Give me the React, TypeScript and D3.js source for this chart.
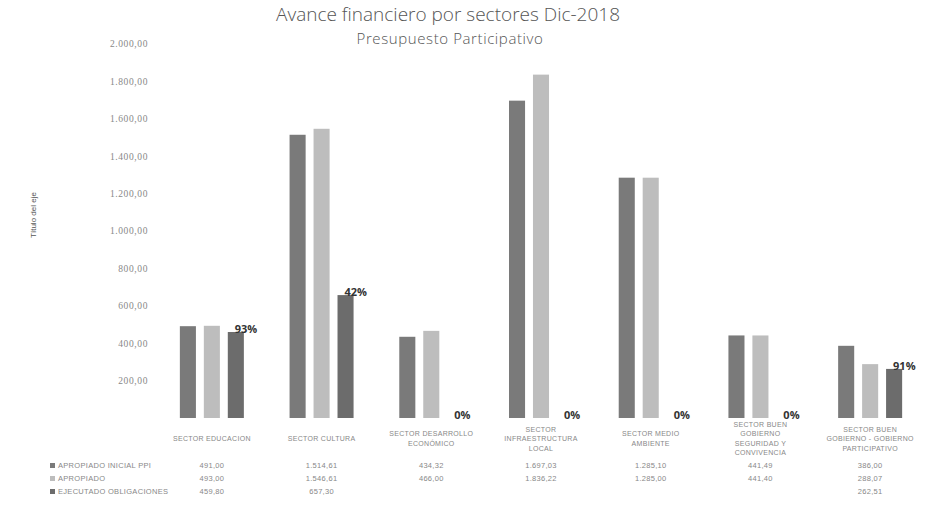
import React from "react";
import * as d3 from "d3";

// Datos (valores en millones)
const categories = [
  "SECTOR EDUCACION",
  "SECTOR CULTURA",
  "SECTOR DESARROLLO ECONÓMICO",
  "SECTOR INFRAESTRUCTURA LOCAL",
  "SECTOR MEDIO AMBIENTE",
  "SECTOR BUEN GOBIERNO SEGURIDAD Y CONVIVENCIA",
  "SECTOR BUEN GOBIERNO - GOBIERNO PARTICIPATIVO",
];
const categoryLines = [
  ["SECTOR EDUCACION"],
  ["SECTOR CULTURA"],
  ["SECTOR DESARROLLO", "ECONÓMICO"],
  ["SECTOR", "INFRAESTRUCTURA", "LOCAL"],
  ["SECTOR MEDIO", "AMBIENTE"],
  ["SECTOR BUEN", "GOBIERNO", "SEGURIDAD Y", "CONVIVENCIA"],
  ["SECTOR BUEN", "GOBIERNO - GOBIERNO", "PARTICIPATIVO"],
];
const seriesNames = ["APROPIADO INICIAL PPI", "APROPIADO", "EJECUTADO OBLIGACIONES"];
const apropiadoInicial = [491.0, 1514.61, 434.32, 1697.03, 1285.1, 441.49, 386.0];
const apropiado = [493.0, 1546.61, 466.0, 1836.22, 1285.0, 441.4, 288.07];
const ejecutado = [459.8, 657.3, 0, 0, 0, 0, 262.51];
const yTicks = [200, 400, 600, 800, 1000, 1200, 1400, 1600, 1800, 2000];

const seriesColors = ["#7a7a7a", "#bdbdbd", "#6c6c6c"];

const width = 931;
const height = 510;

const esLocale = d3.formatLocale({
  decimal: ",",
  thousands: ".",
  grouping: [3],
  currency: ["$", ""],
});
const fmt = esLocale.format(",.2f");

export default function App() {
  const series = [apropiadoInicial, apropiado, ejecutado];

  const x = d3
    .scaleBand<string>()
    .domain(categories)
    .range([157, 925])
    .paddingInner(0)
    .paddingOuter(0);
  const inner = d3
    .scaleBand<number>()
    .domain([0, 1, 2])
    .range([0, 64])
    .paddingInner(0.33);
  const y = d3.scaleLinear().domain([0, 2000]).range([418, 44]);

  const groupX = (c: string) => (x(c) as number) + x.bandwidth() / 2 - 32;

  const rowY = [468, 481, 494];

  return (
    <svg
      width={width}
      height={height}
      style={{ position: "absolute", left: 0, top: 0, background: "#fff" }}
    >
      {/* títulos */}
      <text
        x={448}
        y={21}
        textAnchor="middle"
        fontFamily="'Open Sans', sans-serif"
        fontWeight={300}
        fontSize={19}
        fill="#555"
      >
        Avance financiero por sectores Dic-2018
      </text>
      <text
        x={450}
        y={44}
        textAnchor="middle"
        fontFamily="'Open Sans', sans-serif"
        fontWeight={300}
        fontSize={15}
        letterSpacing={0.6}
        fill="#555"
      >
        Presupuesto Participativo
      </text>

      {/* eje Y */}
      <g fontFamily="'Liberation Serif', serif" fontSize={9.5} fill="#888" letterSpacing={0.6}>
        {yTicks.map((t) => (
          <text key={t} x={148} y={y(t)} dy="0.35em" textAnchor="end">
            {fmt(t)}
          </text>
        ))}
      </g>
      <text
        transform={`translate(36,215) rotate(-90)`}
        textAnchor="middle"
        fontFamily="'Liberation Sans', sans-serif"
        fontSize={8}
        fill="#555"
      >
        Título del eje
      </text>

      {/* barras */}
      {categories.map((c, ci) => (
        <g key={c} transform={`translate(${groupX(c)},0)`}>
          {series.map((s, si) =>
            s[ci] > 0 ? (
              <rect
                key={si}
                x={inner(si)}
                y={y(s[ci])}
                width={inner.bandwidth()}
                height={y(0) - y(s[ci])}
                fill={seriesColors[si]}
              />
            ) : null
          )}
          <text
            x={(inner(2) as number) + 7}
            y={y(ejecutado[ci]) + 1}
            fontFamily="'Open Sans', sans-serif"
            fontWeight={700}
            fontSize={11}
            fill="#333"
          >
            {`${Math.round((ejecutado[ci] / apropiado[ci]) * 100)}%`}
          </text>
        </g>
      ))}

      {/* etiquetas de categoría */}
      <g fontFamily="'Liberation Sans', sans-serif" fontSize={7} fill="#888" letterSpacing={0.3}>
        {categories.map((c, ci) => {
          const lines = categoryLines[ci];
          const cx = (x(c) as number) + x.bandwidth() / 2;
          const top = 441 - ((lines.length - 1) * 9.5) / 2;
          return (
            <text key={c} textAnchor="middle">
              {lines.map((l, li) => (
                <tspan key={li} x={cx} y={top + li * 9.5}>
                  {l}
                </tspan>
              ))}
            </text>
          );
        })}
      </g>

      {/* tabla de datos */}
      <g fontFamily="'Liberation Sans', sans-serif" fontSize={7.5} fill="#888" letterSpacing={0.3}>
        {seriesNames.map((n, si) => (
          <g key={n}>
            <rect x={50} y={rowY[si] - 5} width={5} height={5} fill={seriesColors[si]} />
            <text x={58} y={rowY[si]}>
              {n}
            </text>
            {categories.map((c, ci) =>
              series[si][ci] > 0 ? (
                <text
                  key={c}
                  x={(x(c) as number) + x.bandwidth() / 2}
                  y={rowY[si]}
                  textAnchor="middle"
                >
                  {fmt(series[si][ci])}
                </text>
              ) : null
            )}
          </g>
        ))}
      </g>
    </svg>
  );
}
